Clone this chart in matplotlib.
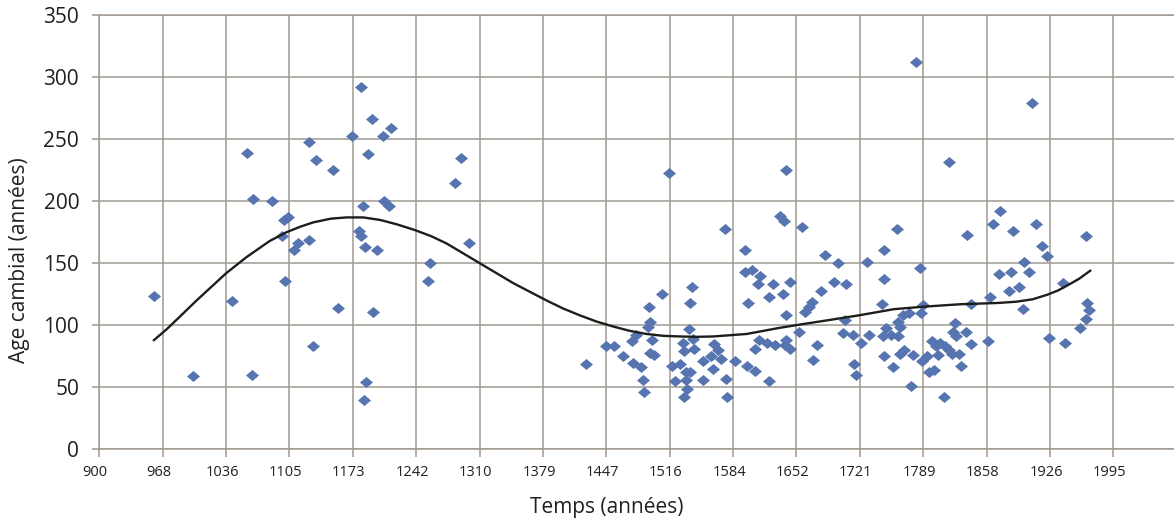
import numpy as np
import matplotlib
matplotlib.use("Agg")
import matplotlib.pyplot as plt
from matplotlib.transforms import ScaledTranslation

plt.rcParams["font.family"] = ["Open Sans", "DejaVu Sans"]

# cambial age of each sample vs. time
years = [
    959, 1001, 1043, 1059, 1066, 1065, 1086, 1099, 1104, 1097, 1101, 1110, 1115,
    1126, 1126, 1134, 1131, 1152, 1158, 1173, 1183, 1195, 1206, 1215, 1190, 1185,
    1207, 1213, 1180, 1183, 1187, 1200, 1196, 1188, 1186, 1291, 1284, 1299, 1257,
    1255,
    1426, 1447, 1456, 1465, 1475, 1480, 1476, 1485, 1487, 1488, 1492, 1495, 1497,
    1494, 1495, 1499, 1508, 1515, 1537, 1540, 1538, 1530, 1541, 1542, 1531, 1518,
    1527, 1522, 1533, 1538, 1534, 1535, 1531, 1552, 1552, 1560, 1563, 1564, 1568,
    1571, 1577, 1578, 1576,
    1586, 1597, 1597, 1605, 1600, 1613, 1611, 1623, 1628, 1608, 1612, 1621, 1630,
    1599, 1608, 1623, 1642, 1635, 1639, 1659, 1638, 1646, 1641, 1642, 1646, 1640,
    1761, 1684, 1698, 1729, 1747, 1786, 1747, 1706, 1693, 1679, 1670, 1666, 1662,
    1656, 1705, 1745, 1731, 1714, 1703, 1722, 1675, 1671, 1715, 1717, 1746, 1747,
    1757, 1777, 1750, 1755, 1762, 1765, 1763, 1768, 1774, 1765, 1769, 1779, 1787,
    1789, 1788, 1794, 1796, 1801, 1799, 1803, 1806, 1808, 1813, 1817, 1822, 1825,
    1824, 1836, 1841, 1831, 1828, 1821, 1812, 1841, 1860, 1862, 1782, 1818, 1837,
    1907, 1873, 1865, 1887, 1911, 1966, 1918, 1923, 1899, 1871, 1884, 1904, 1882,
    1893, 1897, 1941, 1967, 1969, 1966, 1959, 1925, 1943,
]
ages = [
    124, 59, 120, 239, 202, 60, 200, 185, 187, 172, 136, 161, 166,
    169, 248, 233, 83, 225, 114, 253, 292, 266, 253, 259, 238, 196,
    200, 196, 176, 172, 163, 161, 111, 54, 40, 235, 215, 166, 150,
    136,
    69, 83, 83, 75, 87, 92, 70, 66, 56, 46, 99, 103, 88,
    115, 78, 76, 125, 223, 97, 131, 118, 86, 89, 81, 79, 67,
    69, 55, 62, 62, 56, 49, 42, 71, 56, 75, 65, 85, 80,
    73, 57, 42, 178,
    71, 161, 143, 145, 118, 140, 133, 123, 133, 81, 88, 86, 84,
    67, 63, 55, 225, 188, 184, 179, 125, 135, 108, 88, 81, 84,
    178, 157, 150, 151, 161, 146, 137, 133, 135, 128, 119, 115, 111,
    95, 104, 117, 92, 92, 94, 86, 84, 72, 69, 60, 91, 75,
    66, 51, 98, 92, 103, 99, 91, 108, 110, 77, 80, 76, 110,
    116, 71, 75, 62, 64, 87, 83, 76, 86, 83, 80, 95, 91,
    102, 95, 85, 67, 77, 77, 42, 117, 87, 123, 312, 232, 173,
    279, 192, 182, 176, 182, 172, 164, 156, 151, 141, 143, 143, 128,
    131, 113, 134, 118, 112, 105, 98, 90, 86,
]

# polynomial trend line as drawn in the original
trend_years = [959, 973, 987, 1005, 1021, 1037, 1059, 1084, 1102, 1117, 1131,
               1150, 1167, 1185, 1203, 1221, 1240, 1258, 1275, 1293, 1311, 1329,
               1347, 1365, 1383, 1401, 1419, 1437, 1455, 1473, 1491, 1509, 1527,
               1545, 1563, 1581, 1599, 1617, 1635, 1660, 1686, 1720, 1758, 1790,
               1830, 1870, 1890, 1908, 1923, 1935, 1945, 1958, 1970]
trend_ages = [88, 97, 107, 120, 131, 142, 155, 168, 175, 179.5, 183,
              186, 187, 187, 185, 181.5, 177, 172, 166, 158, 150, 142,
              134, 127, 120, 113.5, 108, 103, 99, 95.5, 93, 91.5, 91,
              90.7, 91, 92, 93, 95.5, 98, 101, 104, 108, 113, 115,
              117, 118, 119, 121, 124.5, 128, 132, 137.5, 144]

xtick_labels = ["900", "968", "1036", "1105", "1173", "1242", "1310", "1379",
                "1447", "1516", "1584", "1652", "1721", "1789", "1858", "1926",
                "1995"]
ytick_values = [0, 50, 100, 150, 200, 250, 300, 350]

GRID = "#a09891"
TEXT = "#231f20"
POINT = "#5674b0"

W, H = 1174, 520
fig = plt.figure(figsize=(W / 100, H / 100), dpi=100)
ax = fig.add_axes([99.3 / W, (H - 449.3) / H, 1 - 99.3 / W, 434 / H])

# flattened diamond like the spreadsheet marker
diamond = [(-1, 0), (0, -0.85), (1, 0), (0, 0.85), (-1, 0)]
ax.scatter(years, ages, marker=diamond, s=88, color=POINT, linewidths=0, zorder=3)
ax.plot(trend_years, trend_ages, color="#1d1d1b", lw=1.7, zorder=4,
        solid_joinstyle="round")

ax.set_xlim(900, 2060.5)
ax.set_ylim(0, 350)
ax.set_xticks(np.linspace(900, 1995, len(xtick_labels)), xtick_labels)
ax.set_yticks(ytick_values)
ax.grid(True, color=GRID, lw=1.1)
ax.set_axisbelow(True)
for side in ("left", "bottom", "top"):
    ax.spines[side].set_color(GRID)
    ax.spines[side].set_linewidth(1.1)
ax.spines["right"].set_visible(False)

ax.tick_params(axis="y", direction="out", length=5, width=1.1, color=GRID,
               pad=9.5, labelsize=15, labelcolor=TEXT)
ax.tick_params(axis="x", direction="out", length=6, width=1.1, color=GRID,
               pad=5.5, labelsize=10.5, labelcolor=TEXT)
shift = ScaledTranslation(-4 / 100, 0, fig.dpi_scale_trans)
for lab in ax.get_xticklabels():
    lab.set_transform(lab.get_transform() + shift)

fig.text(20 / W, 1 - 260 / H, "Age cambial (années)", rotation=90,
         ha="center", va="center", fontsize=15, color=TEXT)
fig.text(607 / W, 1 - 508 / H, "Temps (années)", ha="center", va="center",
         fontsize=15, color=TEXT)

fig.savefig("out.png", dpi=100)
plt.close(fig)
